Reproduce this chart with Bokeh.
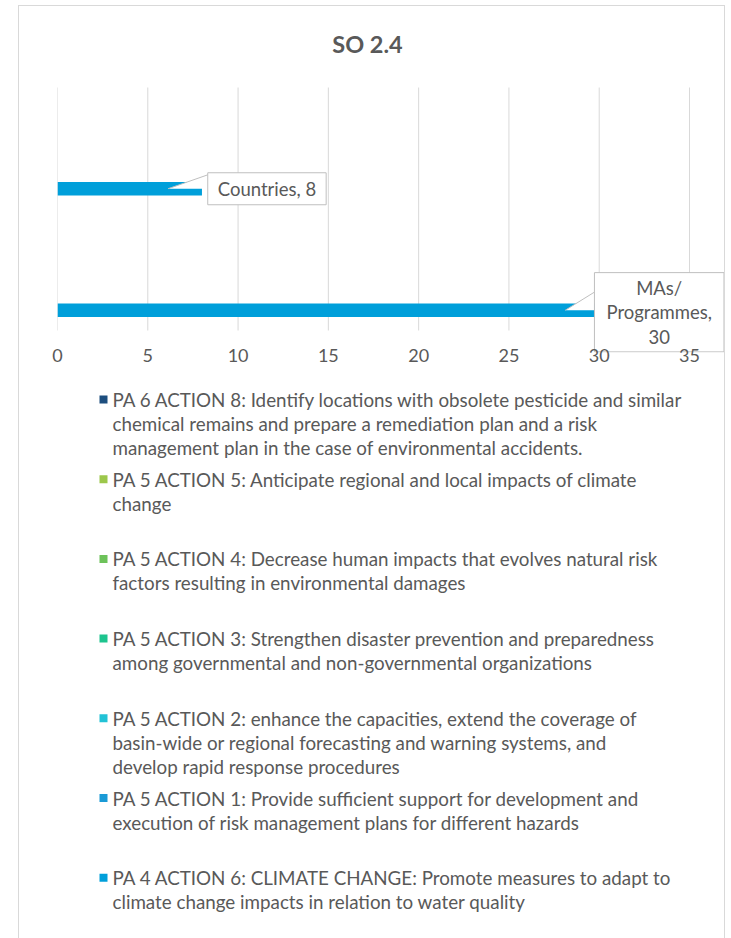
from bokeh.plotting import figure
from bokeh.layouts import column
from bokeh.models import Range1d, FixedTicker, Label, ColumnDataSource
from bokeh.embed import file_html
from bokeh.resources import INLINE

# ---------------- data ----------------
title_text = "SO 2.4"
categories = ["MAs/Programmes", "Countries"]          # bottom -> top
series_names = [                                       # series order (first = bottom bar of each cluster)
    "PA 4 ACTION 6: CLIMATE CHANGE: Promote measures to adapt to\nclimate change impacts in relation to water quality",
    "PA 5 ACTION 1: Provide sufficient support for development and\nexecution of risk management plans for different hazards",
    "PA 5 ACTION 2: enhance the capacities, extend the coverage of\nbasin-wide or regional forecasting and warning systems, and\ndevelop rapid response procedures",
    "PA 5 ACTION 3: Strengthen disaster prevention and preparedness\namong governmental and non-governmental organizations",
    "PA 5 ACTION 4: Decrease human impacts that evolves natural risk\nfactors resulting in environmental damages",
    "PA 5 ACTION 5: Anticipate regional and local impacts of climate\nchange",
    "PA 6 ACTION 8: Identify locations with obsolete pesticide and similar\nchemical remains and prepare a remediation plan and a risk\nmanagement plan in the case of environmental accidents.",
]
pa4_a6 = [30, 8]
pa5_a1 = [0, 0]
pa5_a2 = [0, 0]
pa5_a3 = [0, 0]
pa5_a4 = [0, 0]
pa5_a5 = [0, 0]
pa6_a8 = [0, 0]
series_values = [pa4_a6, pa5_a1, pa5_a2, pa5_a3, pa5_a4, pa5_a5, pa6_a8]
series_colors = ["#009FDA", "#1A9AD6", "#22C2D6", "#1DC48E", "#6DC25A", "#9CC74B", "#1D4E7E"]
x_ticks = [0, 5, 10, 15, 20, 25, 30, 35]

# ---------------- styles ----------------
FONT = "Lato"
TXT = "#595959"
GRID = "#D9D9D9"
W = 705
HA, HB = 372, 560
ML = 38
TOP_PX = 81                   # room above the categories (title area)
TITLE_DY = 44                 # title centre above the top of the category area
PLOT_W = 632                  # pixels spanned by x_ticks[0]..x_ticks[-1]
CAT_H = 243                   # pixels spanned by the categories
EXTRA_B = 22                  # room under the categories for the callout box
FRAME_W = W - ML
FRAME_H = TOP_PX + CAT_H + EXTRA_B
MB = HA - FRAME_H
XPX = PLOT_W / (x_ticks[-1] - x_ticks[0])
YPX = CAT_H / len(categories)

p = figure(width=W, height=HA, output_backend="svg", toolbar_location=None,
           x_range=Range1d(x_ticks[0], x_ticks[0] + FRAME_W / XPX),
           y_range=Range1d(-EXTRA_B / YPX, len(categories) + TOP_PX / YPX),
           min_border_left=ML, min_border_right=0, min_border_top=0, min_border_bottom=MB)
p.outline_line_color = None
p.background_fill_color = "white"
p.border_fill_color = "white"

p.add_layout(Label(x=(x_ticks[0] + x_ticks[-1]) / 2, y=len(categories) + TITLE_DY / YPX,
                   x_offset=-6, text=title_text, text_align="center", text_baseline="middle",
                   text_font=FONT, text_font_size="23.5px", text_font_style="bold",
                   text_color=TXT))

xa = p.xaxis[0]
xa.ticker = FixedTicker(ticks=x_ticks)
xa.axis_line_color = None
xa.major_tick_line_color = None
xa.minor_tick_line_color = None
xa.major_tick_out = 0
xa.major_tick_in = 0
xa.major_label_standoff = -4
xa.major_label_text_font = FONT
xa.major_label_text_font_size = "18px"
xa.major_label_text_color = TXT
p.yaxis.visible = False
p.grid.visible = False

# vertical gridlines at the tick values, spanning the category area
p.segment(x0=x_ticks, y0=[0] * len(x_ticks), x1=x_ticks, y1=[len(categories)] * len(x_ticks),
          line_color=GRID, line_width=1)

# ---------------- bars ----------------
n = len(series_names)
slot = 1.0 / (n + 2)          # 200% gap width
for j in range(n):
    ys = [i + 0.5 + (j - (n - 1) / 2) * slot for i in range(len(categories))]
    src = ColumnDataSource(dict(y=ys, right=series_values[j], cat=categories))
    p.hbar(y="y", left=0, right="right", height=slot, source=src,
           fill_color=series_colors[j], line_color=None)

# ---------------- callouts ----------------
callout_style = [
    dict(cx=60, dy=-2, pv=4, ph=12, tip=34, bdx=-5, btop=18),   # MAs/Programmes
    dict(cx=65, dy=0, pv=5, ph=10, tip=34, bdx=6, btop=14),     # Countries
]
for j in range(n):
    for i, cat in enumerate(categories):
        v = series_values[j][i]
        if v <= 0:
            continue
        c = i + 0.5 + (j - (n - 1) / 2) * slot
        st = callout_style[i]
        txt = f"{cat}, {v}"
        if len(txt) > 14:
            txt = txt.replace("/", "/\n").replace(", ", ",\n")
        tx = v - st["tip"] / XPX
        bx = v + st["bdx"] / XPX
        p.patch(x=[tx, bx, bx], y=[c, c + st["btop"] / YPX, c], fill_color="white", line_color=None)
        p.line(x=[tx, bx], y=[c, c + st["btop"] / YPX], line_color="#BFBFBF", line_width=1)
        lab = Label(x=v, y=c, x_offset=st["cx"], y_offset=st["dy"], text=txt, level="glyph",
                    text_align="center", text_baseline="middle",
                    text_font=FONT, text_font_size="18.5px", text_color=TXT, text_line_height=1.12,
                    background_fill_color="white", border_line_color="#BFBFBF",
                    padding=dict(left=st["ph"], right=st["ph"], top=st["pv"], bottom=st["pv"]))
        p.add_layout(lab)

# ---------------- legend (own panel below the chart) ----------------
# x/y in canvas pixels of this panel (its frame is aligned with the chart frame by the column)
LX_SW, LX_TX = 80, 93          # swatch left / text left
LY0, LDY, LLINE = 21, 79.7, 24 # first row centre, row pitch, line pitch
SW = 8
q = figure(width=W, height=HB, output_backend="svg", toolbar_location=None,
           x_range=Range1d(ML, W), y_range=Range1d(HB, 0),
           x_axis_location=None, y_axis_location=None,
           min_border_left=ML, min_border_right=0, min_border_top=0, min_border_bottom=0)
q.grid.visible = False
q.outline_line_color = None
q.background_fill_color = "white"
q.border_fill_color = "white"

order = list(range(n))[::-1]
sw_x, sw_y, sw_c = [], [], []
tx_x, tx_y, tx_t = [], [], []
for k, j in enumerate(order):
    row_y = LY0 + k * LDY
    sw_x.append(LX_SW + SW / 2)
    sw_y.append(row_y)
    sw_c.append(series_colors[j])
    for l, line in enumerate(series_names[j].split("\n")):
        tx_x.append(LX_TX)
        tx_y.append(row_y + l * LLINE)
        tx_t.append(line)
q.rect(x=sw_x, y=sw_y, width=SW, height=SW, fill_color=sw_c, line_color=None)
q.text(x=tx_x, y=tx_y, text=tx_t, text_baseline="middle", text_align="left",
       text_font={"value": FONT}, text_font_size={"value": "18.8px"}, text_color=TXT)

layout = column(p, q, spacing=0)
layout.margin = (5, 0, 0, 18)
layout.styles = {"border-top": "1px solid #D9D9D9", "border-left": "1px solid #D9D9D9",
                 "border-right": "1px solid #D9D9D9"}

open("out.html", "w").write(file_html(layout, INLINE))
